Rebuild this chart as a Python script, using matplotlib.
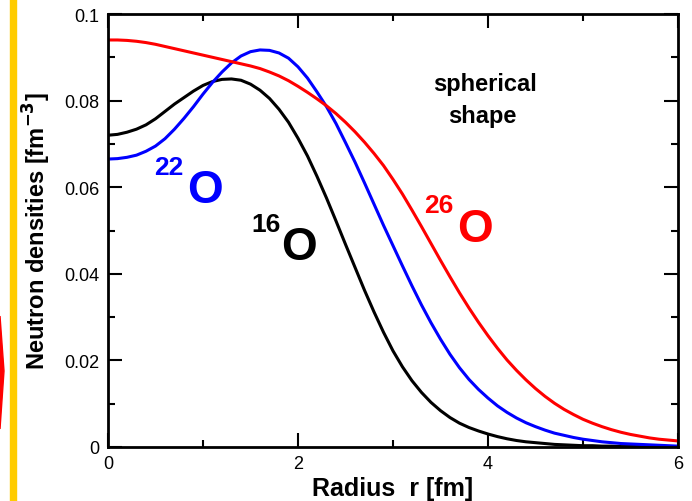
import numpy as np
import matplotlib
matplotlib.use("Agg")
import matplotlib.pyplot as plt
from matplotlib.patches import Polygon, Rectangle
from matplotlib.ticker import MultipleLocator

plt.rcParams['font.family'] = ['Liberation Sans', 'DejaVu Sans']

# radius grid [fm], 0.0 .. 6.0 in steps of 0.1
radius = [round(0.1 * i, 1) for i in range(61)]

# neutron densities [fm^-3]
o16 = [0.0720, 0.0722, 0.0727, 0.0734, 0.0744, 0.0758, 0.0775, 0.0792, 0.0807, 0.0822,
       0.0835, 0.0844, 0.0849, 0.0850, 0.0847, 0.0838, 0.0824, 0.0805, 0.0780, 0.0750,
       0.0713, 0.0672, 0.0625, 0.0575, 0.0522, 0.0468, 0.0415, 0.0362, 0.0312, 0.0265,
       0.0222, 0.0185, 0.0153, 0.0126, 0.0103, 0.0084, 0.0068, 0.0055, 0.0045, 0.0037,
       0.0030, 0.0024, 0.0019, 0.0015, 0.0012, 0.0010, 0.0008, 0.0006, 0.0005, 0.0004,
       0.0003, 0.0003, 0.0002, 0.0002, 0.0001, 0.0001, 0.0001, 0.0001, 0.0000, 0.0000,
       0.0000]

o22 = [0.0665, 0.0666, 0.0669, 0.0674, 0.0683, 0.0695, 0.0712, 0.0734, 0.0759, 0.0786,
       0.0815, 0.0842, 0.0866, 0.0887, 0.0903, 0.0913, 0.0917, 0.0916, 0.0910, 0.0898,
       0.0878, 0.0852, 0.0820, 0.0786, 0.0747, 0.0703, 0.0658, 0.0610, 0.0561, 0.0512,
       0.0465, 0.0418, 0.0372, 0.0328, 0.0287, 0.0249, 0.0214, 0.0183, 0.0156, 0.0133,
       0.0113, 0.0095, 0.0080, 0.0067, 0.0056, 0.0047, 0.0039, 0.0032, 0.0027, 0.0022,
       0.0018, 0.0015, 0.0012, 0.0010, 0.0008, 0.0007, 0.0006, 0.0005, 0.0004, 0.0003,
       0.0002]

o26 = [0.0940, 0.0940, 0.0939, 0.0937, 0.0934, 0.0930, 0.0925, 0.0920, 0.0915, 0.0910,
       0.0905, 0.0900, 0.0895, 0.0890, 0.0885, 0.0880, 0.0874, 0.0866, 0.0857, 0.0846,
       0.0833, 0.0819, 0.0804, 0.0788, 0.0770, 0.0750, 0.0728, 0.0704, 0.0678, 0.0650,
       0.0618, 0.0584, 0.0547, 0.0509, 0.0470, 0.0431, 0.0393, 0.0356, 0.0321, 0.0288,
       0.0257, 0.0228, 0.0201, 0.0177, 0.0155, 0.0135, 0.0117, 0.0101, 0.0087, 0.0075,
       0.0064, 0.0055, 0.0047, 0.0040, 0.0034, 0.0029, 0.0025, 0.0021, 0.0018, 0.0016,
       0.0014]

fig = plt.figure(figsize=(6.92, 5.02), dpi=100)
ax = fig.add_axes([108/692, 1-448/502, 570/692, 433/502])

ax.plot(radius, o16, color='black', lw=2.2)
ax.plot(radius, o22, color='#0000ff', lw=2.2)
ax.plot(radius, o26, color='#ff0000', lw=2.2)

ax.set_xlim(0, 6)
ax.set_ylim(0, 0.1)
ax.xaxis.set_major_locator(MultipleLocator(2))
ax.xaxis.set_minor_locator(MultipleLocator(1))
ax.yaxis.set_major_locator(MultipleLocator(0.02))
ax.yaxis.set_minor_locator(MultipleLocator(0.01))
ax.xaxis.set_major_formatter(plt.FuncFormatter(lambda v, p: '%g' % v))
ax.yaxis.set_major_formatter(plt.FuncFormatter(lambda v, p: '%g' % round(v, 3)))

ax.tick_params(which='both', direction='in', top=True, right=True, width=1.5, labelsize=13)
ax.tick_params(which='major', length=10, pad=6)
ax.tick_params(which='minor', length=5)
for s in ax.spines.values():
    s.set_linewidth(2)

ax.set_xlabel('Radius  r [fm]', fontsize=18, fontweight='bold', labelpad=3)
ax.set_ylabel(r'Neutron densities [fm$^{\mathbf{-3}}$]', fontsize=17, fontweight='bold', labelpad=8)

# isotope labels
lab = dict(fontweight='bold', ha='left', va='baseline')
ax.text(0.49, 0.063, '22', color='#0000ff', fontsize=19, **lab)
ax.text(0.83, 0.0566, 'O', color='#0000ff', fontsize=33, **lab)
ax.text(1.51, 0.0499, '16', color='black', fontsize=19, **lab)
ax.text(1.82, 0.0434, 'O', color='black', fontsize=33, **lab)
ax.text(3.33, 0.0543, '26', color='#ff0000', fontsize=19, **lab)
ax.text(3.67, 0.0476, 'O', color='#ff0000', fontsize=33, **lab)

ax.text(3.97, 0.0824, 'spherical', fontsize=17, fontweight='bold', ha='center', va='baseline')
ax.text(3.94, 0.0751, 'shape', fontsize=17, fontweight='bold', ha='center', va='baseline')

# slide decorations at the left edge
fig.patches.append(Rectangle((10/692, 0), 6/692, 1, transform=fig.transFigure,
                             color='#ffcc00', zorder=0))
fig.patches.append(Polygon([(0, 1-317/502), (4/692, 1-372/502), (0, 1-430/502)],
                           closed=True, transform=fig.transFigure, color='#ff0000', zorder=0))

fig.savefig('out.png', dpi=100)
